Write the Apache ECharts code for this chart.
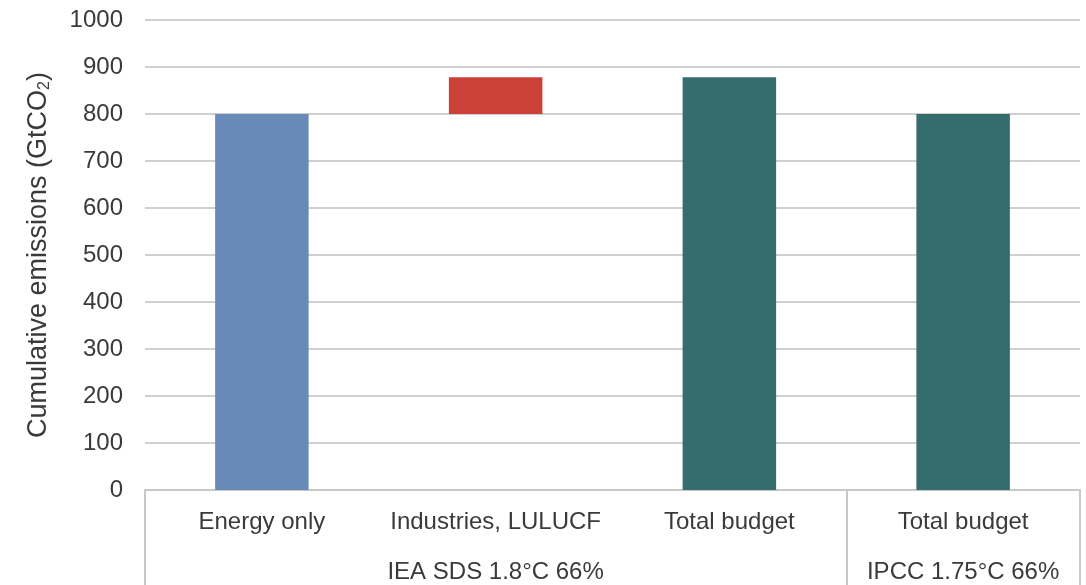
<!DOCTYPE html>
<html>
<head>
<meta charset="utf-8">
<script src="https://cdn.jsdelivr.net/npm/echarts@6/dist/echarts.min.js"></script>
<style>
  html, body { margin: 0; padding: 0; background: #fff; }
  #chart { width: 1086px; height: 585px; }
</style>
</head>
<body>
<div id="chart"></div>
<script>
// data
const categories = ['Energy only', 'Industries, LULUCF', 'Total budget', 'Total budget']
const groupLabels = ['', 'IEA SDS 1.8°C 66%', '', 'IPCC 1.75°C 66%']
const baseValues = [0, 800, 0, 0]
const barValues = [800, 78, 878, 800]
const yTicks = [0, 1000, 100] // min, max, interval

const barColors = ['#678ab8', '#cc4137', '#346d6c', '#346d6c']
const textColor = '#3a3a3a'
const font = 'Liberation Sans, Arial, sans-serif'

const chart = echarts.init(document.getElementById('chart'))

chart.setOption({
  animation: false,
  grid: { left: 145, right: 6, top: 20, bottom: 95 },
  xAxis: [
    {
      type: 'category',
      data: categories,
      axisLine: { lineStyle: { color: '#c8c8c8', width: 2 } },
      axisTick: {
        show: true,
        length: 100,
        interval: function(index) { return index === 0 || index === 3 },
        lineStyle: { color: '#c8c8c8', width: 2 }
      },
      axisLabel: { color: textColor, fontFamily: font, fontSize: 24, margin: 20, interval: 0 }
    },
    {
      type: 'category',
      position: 'bottom',
      offset: 50,
      data: groupLabels,
      axisLine: { show: false },
      axisTick: { show: false },
      axisLabel: { color: textColor, fontFamily: font, fontSize: 24, margin: 20, interval: 0 }
    }
  ],
  yAxis: {
    type: 'value',
    min: yTicks[0],
    max: yTicks[1],
    interval: yTicks[2],
    name: '{a|Cumulative emissions (GtCO}{s|2}{a|)}',
    nameLocation: 'middle',
    nameGap: 92,
    nameTextStyle: {
      rich: {
        a: { color: textColor, fontFamily: font, fontSize: 27 },
        s: { color: textColor, fontFamily: font, fontSize: 16, verticalAlign: 'bottom', padding: [12, 0, 0, 0] }
      }
    },
    axisLine: { show: false },
    axisTick: { show: false },
    axisLabel: { color: textColor, fontFamily: font, fontSize: 24, margin: 22, formatter: v => String(v) },
    splitLine: { lineStyle: { color: '#cfcfcf', width: 2 } }
  },
  series: [
    {
      type: 'bar',
      stack: 'total',
      data: baseValues,
      barWidth: '40%',
      itemStyle: { color: 'transparent' },
      silent: true
    },
    {
      type: 'bar',
      stack: 'total',
      barWidth: '40%',
      data: barValues.map((v, i) => ({ value: v, itemStyle: { color: barColors[i] } }))
    }
  ]
})
</script>
</body>
</html>
